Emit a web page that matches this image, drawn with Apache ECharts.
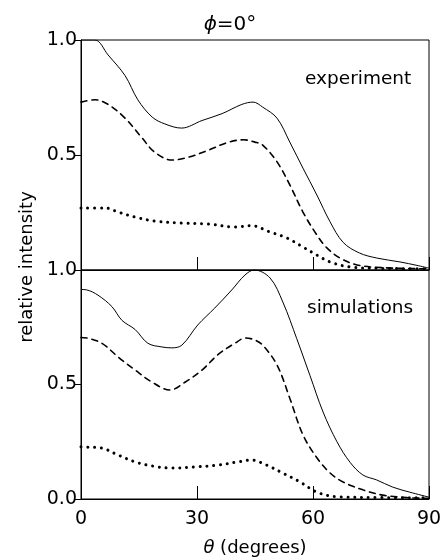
<!DOCTYPE html>
<html>
<head>
<meta charset="utf-8">
<script src="https://cdn.jsdelivr.net/npm/echarts@6/dist/echarts.min.js"></script>
<style>html,body{margin:0;padding:0;background:#fff}#c{width:447px;height:558px}</style>
</head>
<body>
<div id="c"></div>
<script>
// theta (degrees) vs relative intensity
var expSolid = [[0,1.0],[3.6,1.0],[7,0.935],[11.4,0.845],[14.7,0.74],[18.4,0.665],[21.7,0.635],[26,0.617],[31.3,0.65],[36.5,0.68],[41.6,0.72],[44.5,0.73],[47,0.708],[50.7,0.66],[54,0.556],[57.4,0.443],[61,0.326],[64.4,0.21],[67.8,0.12],[72,0.074],[76.5,0.052],[82.5,0.035],[86.9,0.02],[90,0.008]];
var expDashed = [[0,0.73],[3.6,0.74],[7,0.72],[11.4,0.66],[15.8,0.574],[19,0.513],[23.5,0.478],[27.7,0.49],[32.8,0.52],[38,0.555],[42,0.566],[45,0.556],[47,0.543],[50.7,0.47],[54,0.37],[57.4,0.252],[61,0.152],[63.6,0.096],[67,0.052],[71.4,0.022],[78,0.01],[90,0.005]];
var expDotted = [[0,0.27],[6.2,0.27],[9.6,0.252],[14,0.23],[19,0.213],[26,0.204],[32.8,0.2],[39.8,0.187],[44,0.193],[48.9,0.165],[53.3,0.139],[57.4,0.1],[61,0.065],[64.4,0.035],[69.6,0.013],[78,0.007],[90,0.005]];
var simSolid = [[0,0.915],[1.5,0.913],[4.4,0.89],[8,0.84],[10.6,0.78],[14,0.74],[17.3,0.68],[20.9,0.664],[23.5,0.66],[26.1,0.672],[30.2,0.76],[34.6,0.834],[39,0.913],[42.4,0.978],[44.8,1.0],[48.9,0.965],[52.2,0.86],[55.8,0.70],[59.2,0.54],[62.6,0.38],[66.2,0.25],[69.6,0.16],[72.9,0.105],[76.5,0.083],[80.6,0.052],[85,0.03],[90,0.008]];
var simDashed = [[0,0.705],[1.5,0.703],[5.4,0.68],[9.6,0.62],[14,0.563],[18.4,0.51],[23,0.476],[26.9,0.51],[31.3,0.563],[35.4,0.63],[39.8,0.68],[42.6,0.703],[45,0.694],[47,0.672],[50.7,0.585],[54,0.44],[57.4,0.28],[61,0.18],[64.4,0.114],[67.8,0.074],[72.9,0.04],[78,0.017],[84.3,0.006],[90,0.003]];
var simDotted = [[0,0.228],[1,0.227],[5.4,0.222],[9.6,0.192],[14,0.162],[18.4,0.144],[23.5,0.135],[29.5,0.14],[35.4,0.148],[40.6,0.162],[44,0.17],[48,0.148],[52.2,0.113],[56.6,0.075],[61,0.03],[66.2,0.01],[78,0.006],[90,0.005]];
var xTicks = [0, 30, 60, 90];
var yTicks = [0.0, 0.5, 1.0];

var FONT = 'DejaVu Sans';
var chart = echarts.init(document.getElementById('c'), null, {renderer: 'canvas'});

function xAxis(idx, showLabels) {
  return {
    type: 'value', gridIndex: idx, min: xTicks[0], max: xTicks[xTicks.length - 1], interval: 30,
    axisLine: {show: true, lineStyle: {color: '#000', width: 1}},
    axisTick: {show: true, inside: true, length: 13, lineStyle: {color: '#000', width: 1}},
    axisLabel: {show: showLabels, color: '#000', fontFamily: FONT, fontSize: 19, margin: 11},
    splitLine: {show: false},
    name: showLabels ? '{i|θ} (degrees)' : '',
    nameLocation: 'middle', nameGap: 40,
    nameTextStyle: {color: '#000', fontFamily: FONT, fontSize: 18,
      rich: {i: {fontStyle: 'italic', fontFamily: FONT, fontSize: 18, color: '#000'}}}
  };
}
function yAxis(idx, hideZero) {
  return {
    type: 'value', gridIndex: idx, min: 0, max: 1, interval: 0.5,
    axisLine: {show: true, lineStyle: {color: '#000', width: 1}},
    axisTick: {show: true, inside: false, length: 6, lineStyle: {color: '#000', width: 1}},
    axisLabel: {color: '#000', fontFamily: FONT, fontSize: 19, margin: 4,
      formatter: function (v) { if (hideZero && v === 0) return ''; return v.toFixed(1); }},
    splitLine: {show: false}
  };
}
function line(data, idx, type, width) {
  return {
    type: 'line', xAxisIndex: idx, yAxisIndex: idx, data: data, symbol: 'none', smooth: 0.35,
    lineStyle: {color: '#000', width: width, type: type, cap: type === 'solid' ? 'butt' : 'round'},
    z: 3
  };
}

chart.setOption({
  animation: false,
  backgroundColor: '#fff',
  grid: [
    {left: 81, right: 18, top: 40, height: 230, show: true, borderColor: '#000', borderWidth: 1},
    {left: 81, right: 18, top: 270, height: 229, show: true, borderColor: '#000', borderWidth: 1}
  ],
  xAxis: [xAxis(0, false), xAxis(1, true)],
  yAxis: [yAxis(0, true), yAxis(1, false)],
  series: [
    line(expSolid, 0, 'solid', 1),
    line(expDashed, 0, [6, 5], 1.6),
    line(expDotted, 0, [0.01, 6.8], 3),
    line(simSolid, 1, 'solid', 1),
    line(simDashed, 1, [6, 5], 1.6),
    line(simDotted, 1, [0.01, 6.8], 3)
  ],
  graphic: [
    {type: 'text', x: 230, y: 25, style: {
      text: '{i|ϕ}=0°', fill: '#000', font: '20px "DejaVu Sans"', align: 'center', verticalAlign: 'middle',
      rich: {i: {fontStyle: 'italic', fontFamily: FONT, fontSize: 20, fill: '#000'}}}},
    {type: 'text', x: 305, y: 79, style: {text: 'experiment', fill: '#000', font: '18.5px "DejaVu Sans"', verticalAlign: 'middle'}},
    {type: 'text', x: 307, y: 308, style: {text: 'simulations', fill: '#000', font: '18.5px "DejaVu Sans"', verticalAlign: 'middle'}},
    {type: 'text', x: 27, y: 267, rotation: Math.PI / 2, style: {
      text: 'relative intensity', fill: '#000', font: '18px "DejaVu Sans"',
      align: 'center', verticalAlign: 'middle'}}
  ]
});
</script>
</body>
</html>
